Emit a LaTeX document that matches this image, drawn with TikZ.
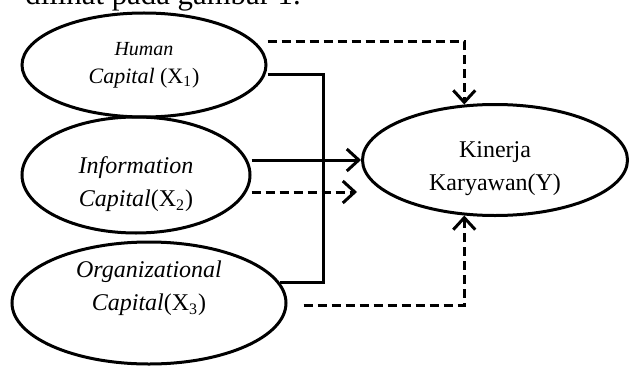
\documentclass[tikz,border=0pt]{standalone}
\usepackage{fontspec}
\setmainfont{Liberation Serif}
\usetikzlibrary{shapes.geometric, arrows.meta, positioning}

\begin{document}
\begin{tikzpicture}[x=0.5pt, y=-0.5pt,
  latent/.style={ellipse, draw, line width=1.5pt, inner sep=0pt, align=center,
                 font=\fontsize{12}{16.5}\selectfont},
  solidlink/.style={line width=1.5pt},
  dashlink/.style={line width=1.5pt, dash pattern=on 4.5pt off 2.5pt},
  >={Straight Barb[length=6pt, width=11pt]}]
\useasboundingbox (0,0) rectangle (630,369);
\clip (0,0) rectangle (630,369);

\node[anchor=base west, inner sep=0pt, font=\fontsize{15.4}{18}\selectfont] (intro) at (25,5)
  {dilihat pada gambar 1.};

\node[latent, minimum width=122pt, minimum height=52pt,
      font=\fontsize{11}{14}\selectfont] (hc) at (144,65)
  {{\fontsize{10}{12}\selectfont\itshape Human}\\{\itshape Capital} (X\textsubscript{1})};
\node[latent, minimum width=114pt, minimum height=58pt, text height=34pt] (ic) at (136,175)
  {{\itshape Information}\\{\itshape Capital}(X\textsubscript{2})};
\node[latent, minimum width=137pt, minimum height=61pt, text depth=17pt] (oc) at (149,303)
  {{\itshape Organizational}\\{\itshape Capital}(X\textsubscript{3})};
\node[latent, minimum width=132.5pt, minimum height=55.5pt, text height=33pt] (ky) at (495,160)
  {Kinerja\\Karyawan(Y)};

\coordinate (trunk) at (323,282);
\coordinate (ictip) at (357,192);

\draw[dashlink,->] ([yshift=11.5pt]hc.east) -| (ky.119);
\draw[solidlink] ([yshift=-5pt]hc.east) -| (trunk |- oc.9) -- (oc.9);
\draw[solidlink,->] ([yshift=7.5pt]ic.east) -- (ky.west);
\draw[dashlink,->] ([yshift=-8.5pt]ic.east) -- (ictip);
\draw[dashlink,->] ([xshift=8pt,yshift=-1pt]oc.east) -| (ky.241);
\end{tikzpicture}
\end{document}
